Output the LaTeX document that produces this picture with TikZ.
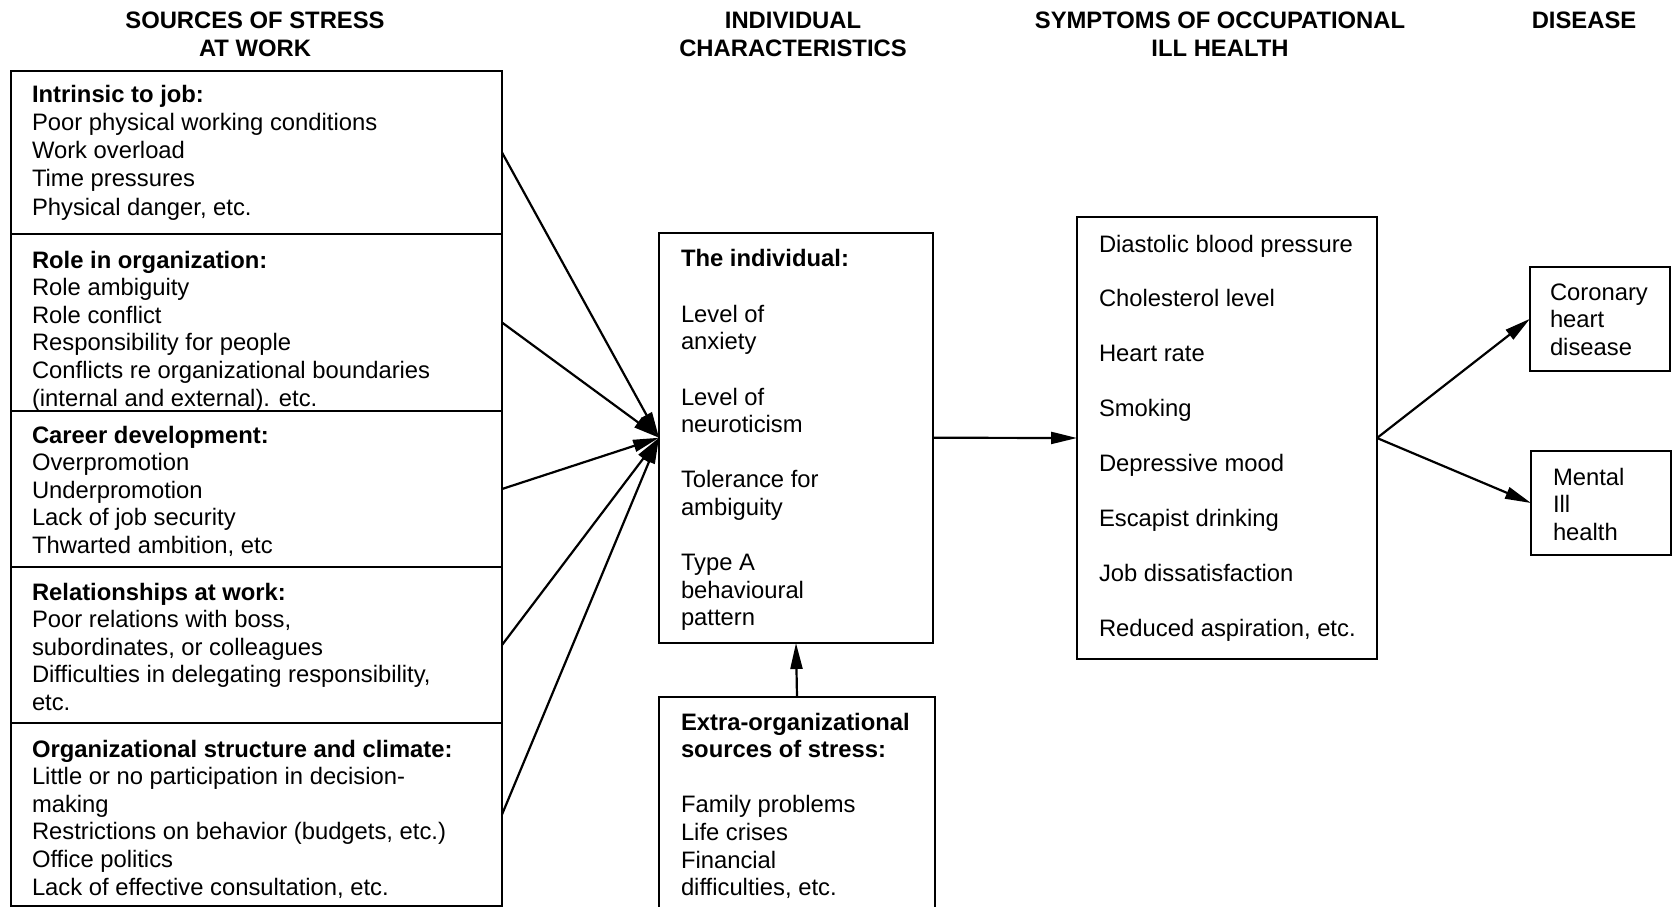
\documentclass[tikz,border=0pt]{standalone}
\usepackage{fontspec}
\setmainfont{Liberation Sans}
\usetikzlibrary{arrows.meta}
\newcommand\bodyfont{\fontsize{23.8pt}{27.6pt}\selectfont}
\newcommand\tstr{\rule{0pt}{20pt}}
\begin{document}
\begin{tikzpicture}[x=1pt,y=-1pt,
  frame/.style={draw, rectangle, line width=2pt, inner sep=0pt, outer sep=0pt},
  txt/.style={anchor=north west, inner sep=0pt, outer sep=0pt, align=left, font=\bodyfont},
  head/.style={anchor=north, inner sep=0pt, outer sep=0pt, align=center, font=\bodyfont\bfseries},
  arr/.style={line width=2.2pt, -{Triangle[length=26pt,width=12pt]}}]
\clip (0,0) rectangle (1674,907);
\fill[white] (0,0) rectangle (1674,907);

% column headings
\node[head] (h1) at (255,9)  {\tstr SOURCES OF STRESS\\AT WORK};
\node[head] (h2) at (793,9)  {\tstr INDIVIDUAL\\CHARACTERISTICS};
\node[head] (h3) at (1220,9) {\tstr SYMPTOMS OF OCCUPATIONAL\\ILL HEALTH};
\node[head] (h4) at (1584,9) {\tstr DISEASE};

% sources of stress: stacked sections
\node[frame, minimum width=491pt, minimum height=163pt] (s1) at (256.5,152.5) {};
\node[frame, minimum width=491pt, minimum height=177pt] (s2) at (256.5,322.5) {};
\node[frame, minimum width=491pt, minimum height=156pt] (s3) at (256.5,489) {};
\node[frame, minimum width=491pt, minimum height=156pt] (s4) at (256.5,645) {};
\node[frame, minimum width=491pt, minimum height=183pt] (s5) at (256.5,814.5) {};

\node[txt] (t1) at (32,82) {\tstr\textbf{Intrinsic to job:}\\[0.7pt]Poor physical working conditions\\[0.7pt]Work overload\\[0.7pt]Time pressures\\[0.7pt]Physical danger, etc.};
\node[txt] (t2) at (32,248) {\tstr\textbf{Role in organization:}\\Role ambiguity\\Role conflict\\Responsibility for people\\Conflicts re organizational boundaries\\(internal and external). etc.};
\node[txt] (t3) at (32,423) {\tstr\textbf{Career development:}\\Overpromotion\\Underpromotion\\Lack of job security\\Thwarted ambition, etc};
\node[txt] (t4) at (32,580) {\tstr\textbf{Relationships at work:}\\Poor relations with boss,\\subordinates, or colleagues\\Difficulties in delegating responsibility,\\etc.};
\node[txt] (t5) at (32,737) {\tstr\textbf{Organizational structure and climate:}\\Little or no participation in decision-\\making\\Restrictions on behavior (budgets, etc.)\\Office politics\\Lack of effective consultation, etc.};

% individual characteristics
\node[frame, minimum width=274pt, minimum height=410.5pt] (ind) at (796,437.75) {};
\node[txt] (tind) at (681,246) {\tstr\textbf{The individual:}\\[28.6pt]Level of\\anxiety\\[27.6pt]Level of\\neuroticism\\[27.6pt]Tolerance for\\ambiguity\\[27.6pt]Type A\\behavioural\\pattern};

\node[frame, minimum width=276pt, minimum height=263pt] (extra) at (797,828.5) {};
\node[txt] (textra) at (681,710) {\tstr\textbf{Extra-organizational}\\\textbf{sources of stress:}\\[27.6pt]Family problems\\Life crises\\Financial\\difficulties, etc.};

% symptoms
\node[frame, minimum width=300pt, minimum height=442pt] (sym) at (1227,438) {};
\node[txt] (tsym) at (1099,232) {\tstr Diastolic blood pressure\\[27.3pt]Cholesterol level\\[27.3pt]Heart rate\\[27.3pt]Smoking\\[27.3pt]Depressive mood\\[27.3pt]Escapist drinking\\[27.3pt]Job dissatisfaction\\[27.3pt]Reduced aspiration, etc.};

% disease
\node[frame, minimum width=140pt, minimum height=104.5pt] (cor) at (1600,318.75) {};
\node[txt] (tcor) at (1550,280) {\tstr Coronary\\heart\\disease};
\node[frame, minimum width=140pt, minimum height=104pt] (men) at (1601,503) {};
\node[txt] (tmen) at (1553,465) {\tstr Mental\\Ill\\health};

% connectors
\foreach \s in {s1,s2,s3,s4,s5}
  \draw[arr] (\s.east) -- (ind.west);
\draw[arr] (extra.north) -- (ind.south);
\draw[arr] (ind.east) -- (sym.west);
\draw[arr] (sym.east) -- (cor.west);
\draw[arr] (sym.east) -- (men.west);
\end{tikzpicture}
\end{document}
